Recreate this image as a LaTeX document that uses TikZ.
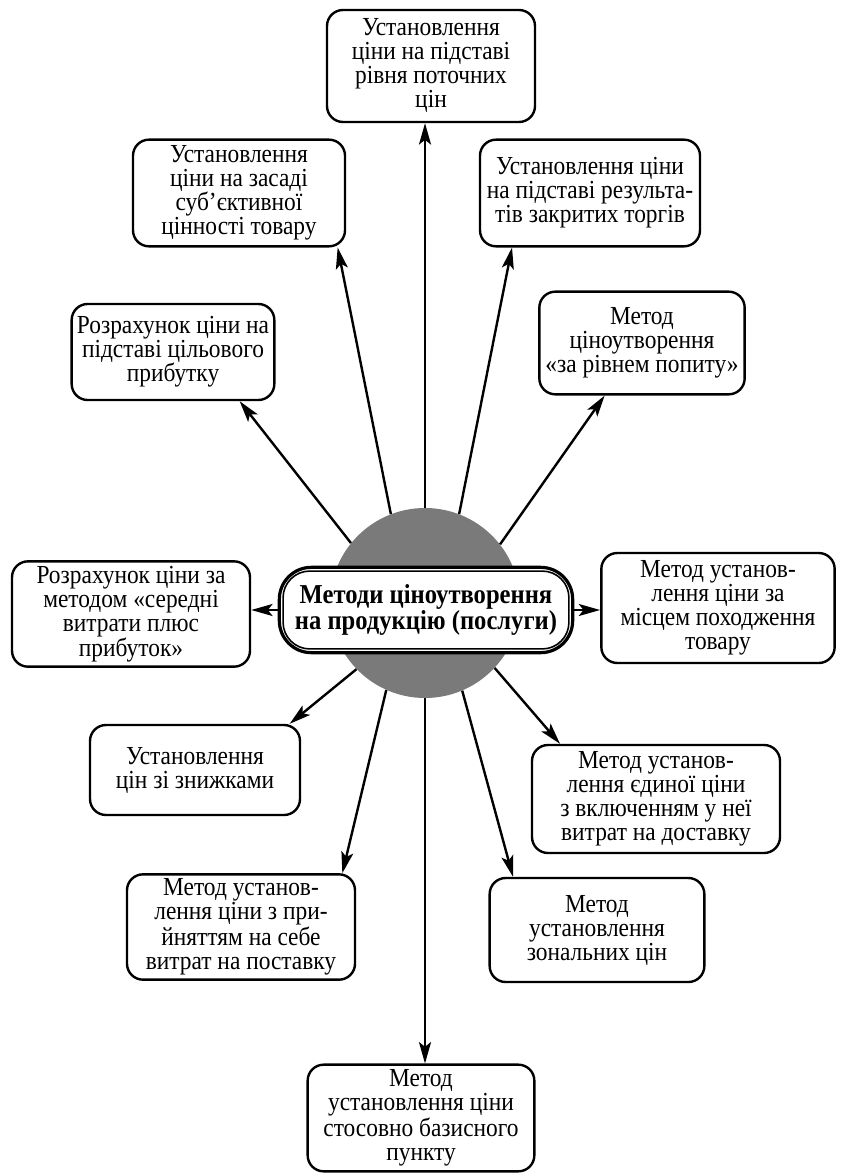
\documentclass[tikz,border=0pt]{standalone}
\usepackage{fontspec}
\setmainfont{Liberation Serif}[FakeStretch=0.9]
\usetikzlibrary{arrows.meta}
\begin{document}
\begin{tikzpicture}[x=0.75pt,y=-0.75pt,
  box/.style={draw, line width=1.8pt, rounded corners=12pt, align=center,
    font=\fontsize{19.5}{18}\selectfont, inner sep=2pt, fill=white},
  hubtitle/.style={draw, fill=white, line width=2.4pt, rounded corners=24pt,
    align=center, font=\fontsize{20.5}{20}\selectfont\bfseries, inner sep=2pt},
  arr/.style={line width=1.8pt, -{Stealth[length=16pt,width=9pt,inset=3.5pt]}}]
\useasboundingbox (0,0) rectangle (843,1176);

% central disc and title
\node[circle, fill=black!52, minimum size=142.5pt, inner sep=0pt] (hub) at (425,603) {};
\node[hubtitle, minimum width=220pt, minimum height=64pt] (c) at (426,610)
  {Методи ціноутворення\\на продукцію (послуги)};
\draw[line width=1.2pt, rounded corners=20pt]
  ([shift={(4pt,-4pt)}]c.north west) rectangle ([shift={(-4pt,4pt)}]c.south east);

% method boxes
\node[box, minimum width=156pt, minimum height=84pt] (b1) at (431,66)
  {Установлення\\ціни на підставі\\рівня поточних\\цін};
\node[box, minimum width=159pt, minimum height=80pt] (b2) at (239,193)
  {Установлення\\ціни на засаді\\суб’єктивної\\цінності товару};
\node[box, minimum width=165pt, minimum height=80pt] (b3) at (590,193)
  {Установлення ціни\\на підставі результа-\\тів закритих торгів};
\node[box, minimum width=152pt, minimum height=72pt] (b4) at (173,352)
  {Розрахунок ціни на\\підставі цільового\\прибутку};
\node[box, minimum width=154pt, minimum height=77pt] (b5) at (642,343)
  {Метод\\ціноутворення\\«за рівнем попиту»};
\node[box, minimum width=178.5pt, minimum height=79pt] (b6) at (131,614)
  {Розрахунок ціни за\\методом «середні\\витрати плюс\\прибуток»};
\node[box, minimum width=175pt, minimum height=82.5pt] (b7) at (718,608)
  {Метод установ-\\лення ціни за\\місцем походження\\товару};
\node[box, minimum width=157.5pt, minimum height=67.5pt] (b8) at (195,770)
  {Установлення\\цін зі знижками};
\node[box, minimum width=186pt, minimum height=81pt] (b9) at (656,799)
  {Метод установ-\\лення єдиної ціни\\з включенням у неї\\витрат на доставку};
\node[box, minimum width=171pt, minimum height=79pt] (b10) at (241,927)
  {Метод установ-\\лення ціни з при-\\йняттям на себе\\витрат на поставку};
\node[box, minimum width=161pt, minimum height=78pt] (b11) at (597,930)
  {Метод\\установлення\\зональних цін};
\node[box, minimum width=170pt, minimum height=80pt] (b12) at (421,1118)
  {Метод\\установлення ціни\\стосовно базисного\\пункту};

% connectors
\draw[arr] (hub.90) -- (hub.90 |- b1.south);
\draw[arr] (hub.111) -- ([xshift=74pt]b2.south);
\draw[arr] (hub.69) -- ([xshift=-58.5pt]b3.south);
\draw[arr] (hub.141) -- ([xshift=50pt]b4.south);
\draw[arr] (hub.38) -- ([xshift=-28pt]b5.south);
\draw[arr] (c.west) -- (c.west -| b6.east);
\draw[arr] (c.east) -- (c.east -| b7.west);
\draw[arr] (hub.224) -- ([xshift=71pt]b8.north);
\draw[arr] (hub.-43) -- ([xshift=-72pt]b9.north);
\draw[arr] (hub.-114) -- ([xshift=76pt]b10.north);
\draw[arr] (hub.-67) -- ([xshift=-63pt]b11.north);
\draw[arr] (hub.-90) -- (hub.-90 |- b12.north);
\end{tikzpicture}
\end{document}
